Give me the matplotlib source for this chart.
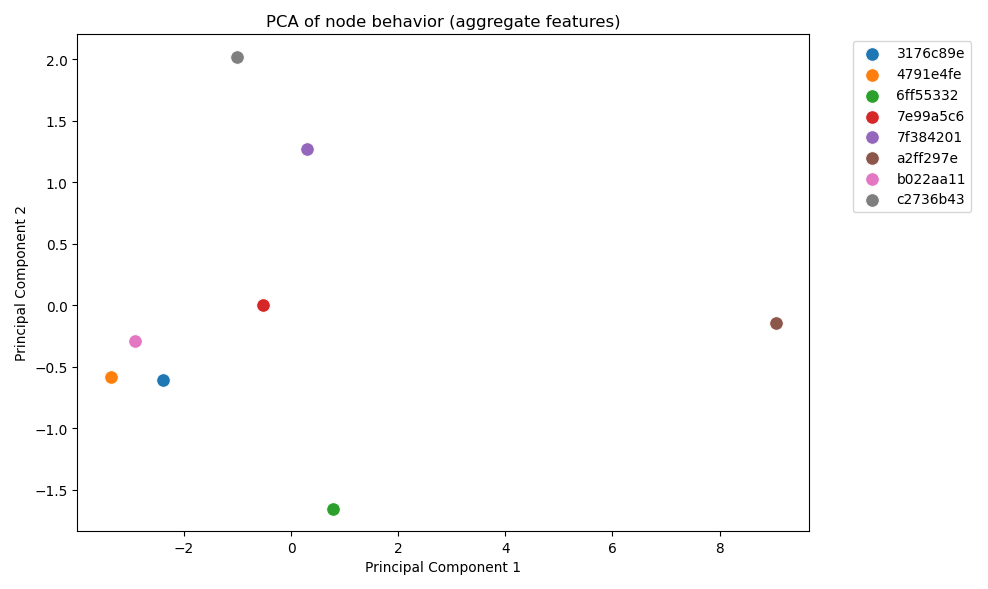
import matplotlib
matplotlib.use('Agg')
import matplotlib.pyplot as plt

nodes = ['3176c89e', '4791e4fe', '6ff55332', '7e99a5c6', '7f384201', 'a2ff297e', 'b022aa11', 'c2736b43']
pc1 = [-2.40, -3.37, 0.79, -0.52, 0.29, 9.05, -2.91, -1.01]
pc2 = [-0.61, -0.58, -1.65, 0.00, 1.27, -0.14, -0.29, 2.02]

fig = plt.figure(figsize=(10, 5.97), dpi=98.8)
ax = fig.add_subplot(1, 1, 1)
colors = plt.rcParams['axes.prop_cycle'].by_key()['color']
for i, n in enumerate(nodes):
    ax.scatter(pc1[i], pc2[i], s=100, color=colors[i], edgecolor='white', linewidth=0.75, label=n)

ax.set_xlabel('Principal Component 1')
ax.set_ylabel('Principal Component 2')
ax.set_title('PCA of node behavior (aggregate features)')
ax.legend(bbox_to_anchor=(1.05, 1), loc='upper left')
plt.tight_layout()
plt.savefig('out.png')
plt.close()
